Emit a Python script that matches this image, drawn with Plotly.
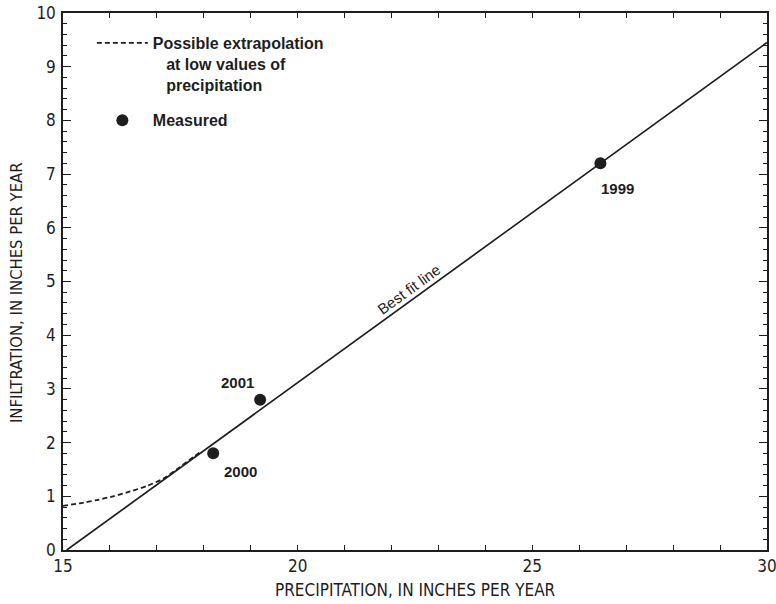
import plotly.graph_objects as go

# Measured annual infiltration vs precipitation
years = ["1999", "2000", "2001"]
precip = [26.45, 18.2, 19.2]
infiltration = [7.2, 1.8, 2.8]

# Best fit line endpoints
fit_x = [15.08, 30.0]
fit_y = [0.0, 9.45]

# Possible extrapolation curve at low precipitation
extrap_x = [15.0, 15.36, 15.72, 16.07, 16.43, 16.78, 17.14, 17.42, 17.64, 17.81, 17.95]
extrap_y = [0.82, 0.87, 0.93, 1.00, 1.09, 1.19, 1.33, 1.50, 1.64, 1.75, 1.84]

# Label offsets (pixels) for the year labels
label_shift = {"1999": (17, -25), "2000": (27, -18), "2001": (-23, 17)}

narrow = "Liberation Sans Narrow, Arial Narrow, DejaVu Sans Condensed, sans-serif"
bold = "Liberation Sans, Arial, sans-serif"
ink = "#1e1e1e"
pad = "\u00a0\u00a0\u00a0"

fig = go.Figure()

fig.add_trace(go.Scatter(
    x=extrap_x, y=extrap_y, mode="lines",
    line=dict(color=ink, width=1.8, dash="5px,3px", shape="spline", smoothing=0.6),
    name="<b>Possible extrapolation</b><br><b>%sat low values of</b><br><b>%sprecipitation</b>" % (pad, pad),
    legendgroup="a",
))
fig.add_trace(go.Scatter(
    x=fit_x, y=fit_y, mode="lines",
    line=dict(color=ink, width=1.7), showlegend=False,
))
fig.add_trace(go.Scatter(
    x=precip, y=infiltration, mode="markers",
    marker=dict(color=ink, size=12),
    name="<b>Measured</b>", legendgroup="b",
))

annotations = []
for yr, px, py in zip(years, precip, infiltration):
    dx, dy = label_shift[yr]
    annotations.append(dict(
        x=px, y=py, xref="x", yref="y", text="<b>%s</b>" % yr, showarrow=False,
        xshift=dx, yshift=dy, font=dict(family=bold, size=15, color=ink),
    ))

annotations.append(dict(
    x=22.36, y=4.86, xref="x", yref="y", text="Best fit line", showarrow=False,
    textangle=-36, font=dict(family=bold, size=15, color=ink),
))
annotations.append(dict(
    x=0.5, y=-0.075, xref="paper", yref="paper", showarrow=False,
    text="PRECIPITATION, IN INCHES PER YEAR",
    font=dict(family=narrow, size=17, color=ink), yanchor="middle",
))
annotations.append(dict(
    x=-0.067, y=0.48, xref="paper", yref="paper", showarrow=False,
    text="INFILTRATION, IN INCHES PER YEAR", textangle=-90,
    font=dict(family=narrow, size=16.5, color=ink), xanchor="center", yanchor="middle",
))

axis_common = dict(
    showgrid=False, zeroline=False, showline=True, linecolor=ink, linewidth=1.5,
    mirror="ticks", ticks="inside", tickcolor=ink, tickwidth=1.3,
    tickfont=dict(family=narrow, size=17, color=ink), automargin=False,
    ticklabeloverflow="allow",
)

fig.update_xaxes(
    range=[15, 30], tickvals=[15, 20, 25, 30], ticklen=5,
    minor=dict(dtick=1, ticks="inside", ticklen=5, tickcolor=ink, tickwidth=1.3),
    **axis_common,
)
fig.update_yaxes(
    range=[0, 10], dtick=1, ticklen=8, ticklabelstandoff=2,
    minor=dict(dtick=0.2, ticks="inside", ticklen=4, tickcolor=ink, tickwidth=1.3),
    **axis_common,
)

fig.update_layout(
    width=776, height=604,
    margin=dict(l=63, r=9, t=13, b=54),
    paper_bgcolor="white", plot_bgcolor="white",
    showlegend=True,
    legend=dict(
        x=0.041, y=0.976, xanchor="left", yanchor="top",
        font=dict(family=bold, size=16, color=ink),
        bgcolor="rgba(0,0,0,0)", traceorder="grouped", tracegroupgap=12,
        valign="top", itemwidth=51,
    ),
    annotations=annotations,
)

fig.write_html("out.html")
